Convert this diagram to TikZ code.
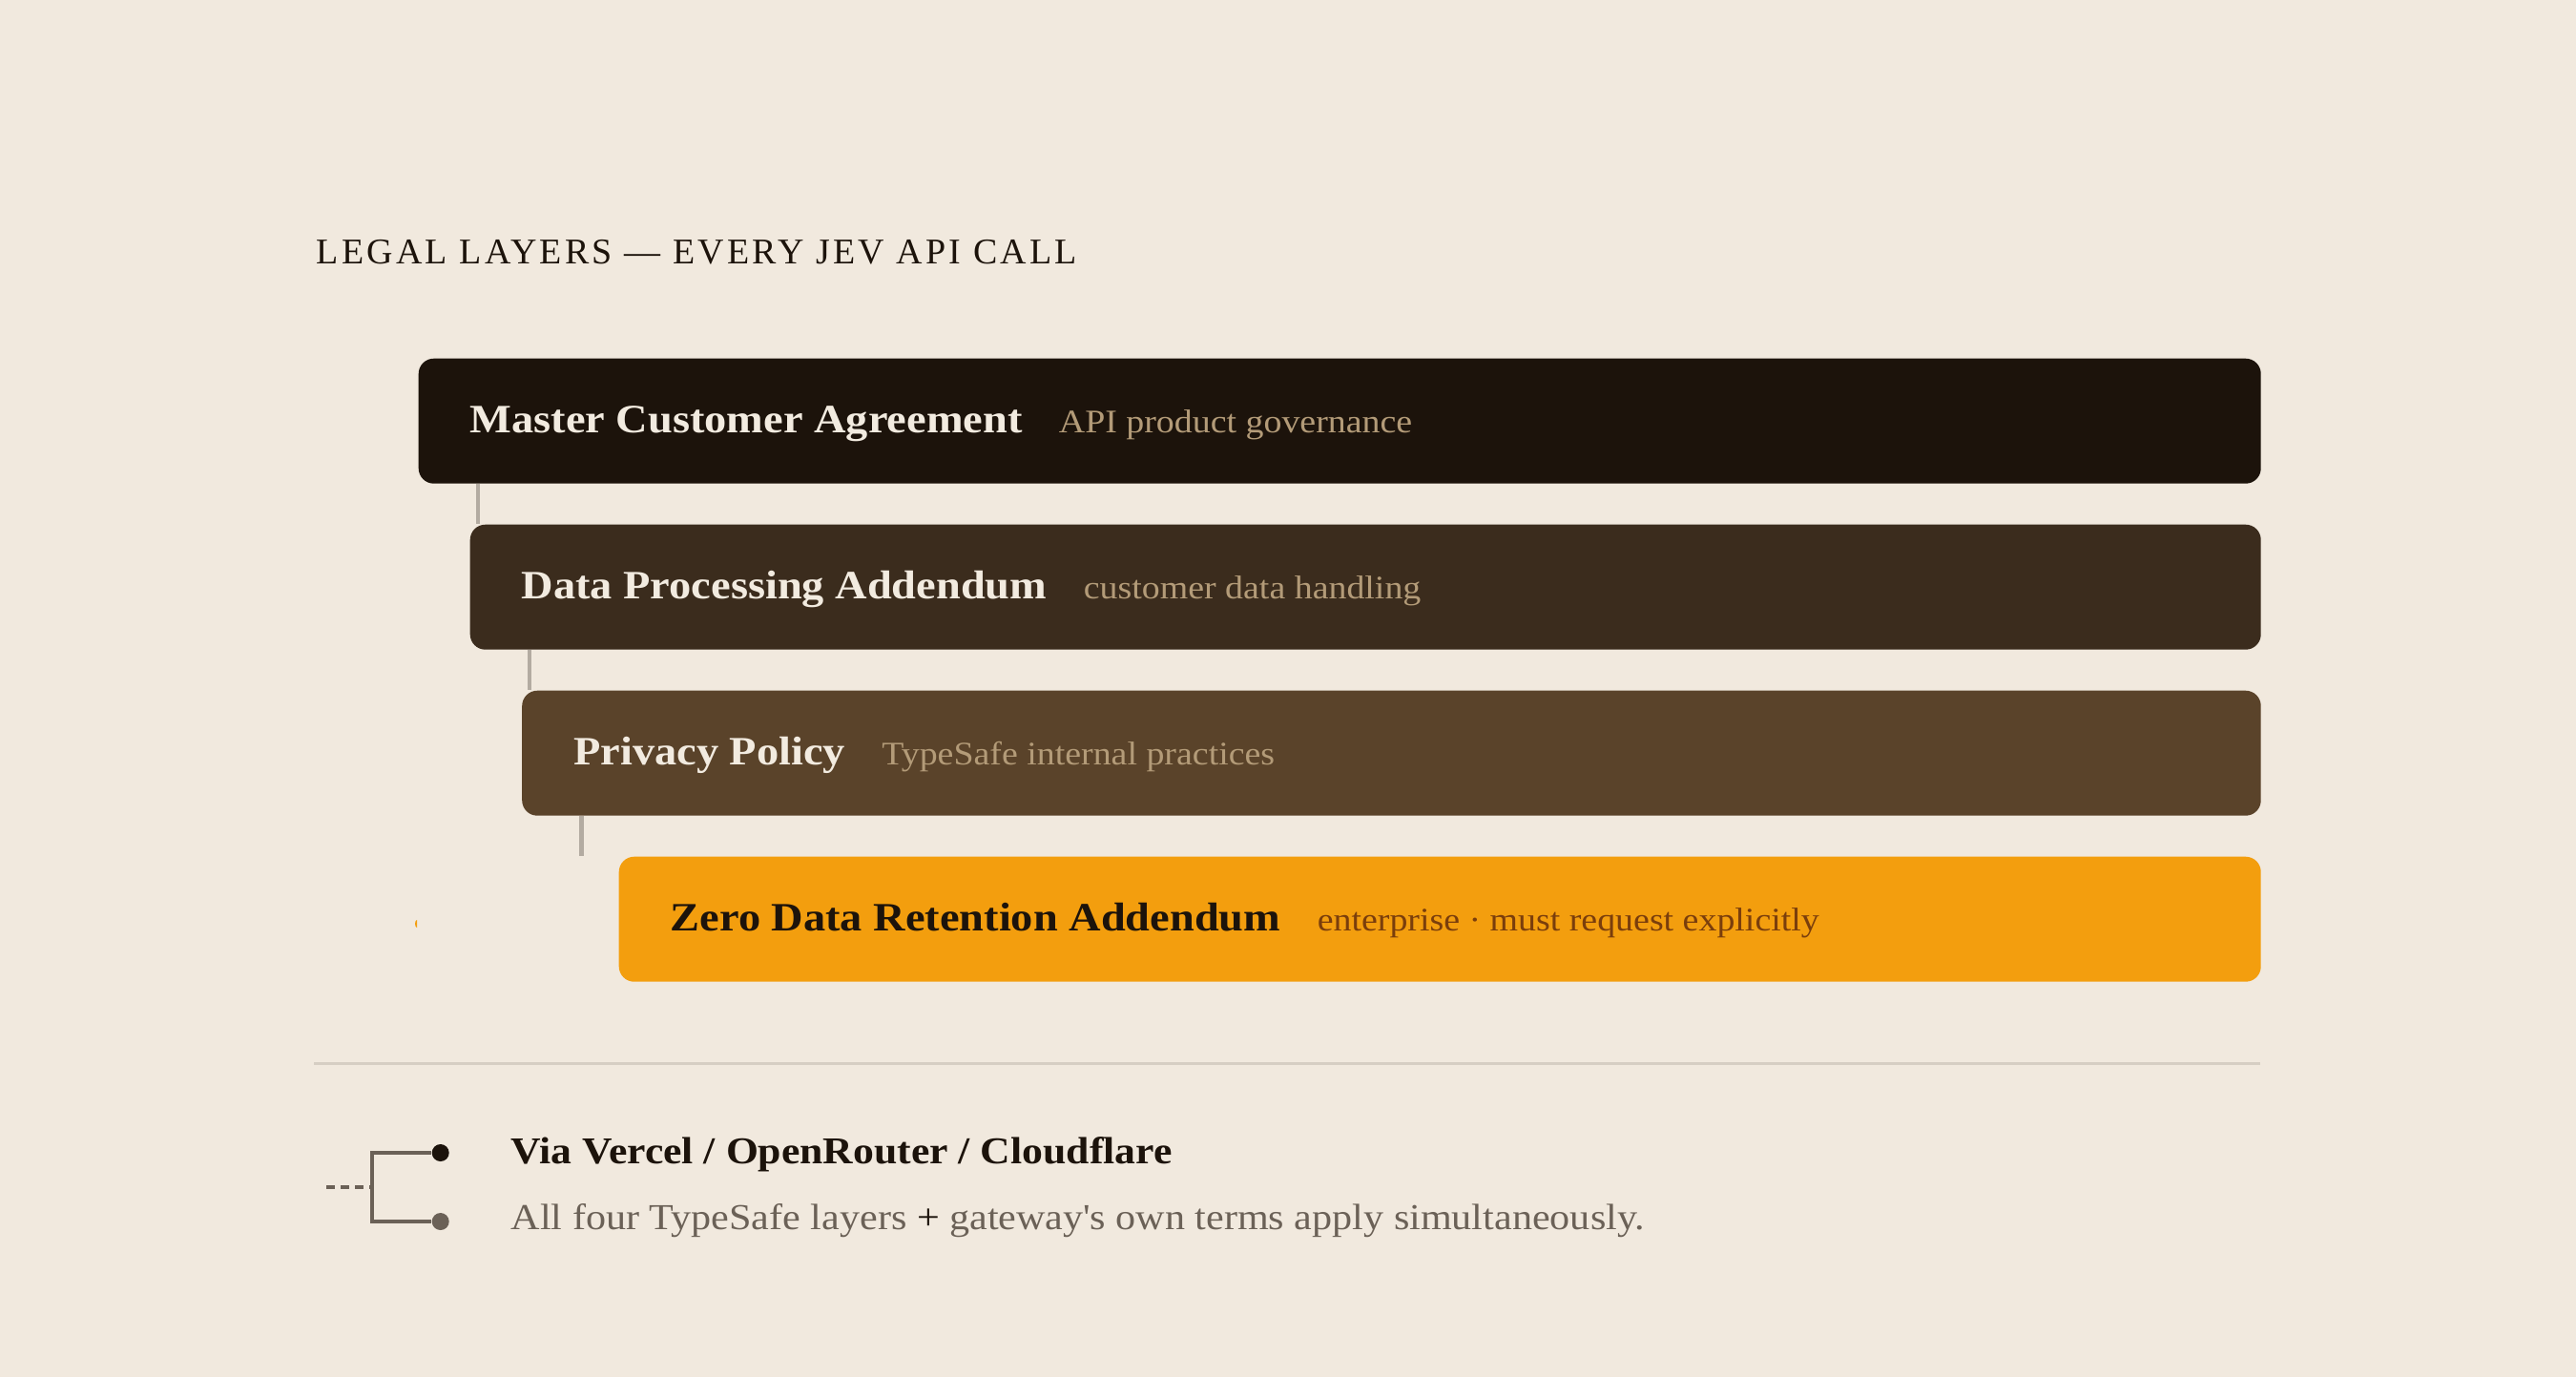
\documentclass[tikz,border=0pt]{standalone}
\usepackage{fontspec}
\setmainfont{Liberation Serif}[FakeStretch=1.1]
\newfontfamily\capsfont{Liberation Serif}[LetterSpace=8.5]
\usepackage{xcolor}
\usetikzlibrary{positioning}
\definecolor{paper}{HTML}{F1E9DE}
\definecolor{ink}{HTML}{1C130B}
\definecolor{layerA}{HTML}{1C130B}
\definecolor{layerB}{HTML}{3B2C1D}
\definecolor{layerC}{HTML}{5A432A}
\definecolor{layerD}{HTML}{F39E0E}
\definecolor{cream}{HTML}{F2EBE0}
\definecolor{tan}{HTML}{B39B78}
\definecolor{rust}{HTML}{7A3E0C}
\definecolor{linkgray}{HTML}{B3ABA1}
\definecolor{rulegray}{HTML}{D6CEC3}
\definecolor{slate}{HTML}{6B6157}
\tikzset{
  layer/.style={anchor=north west, rounded corners=0.16cm, minimum height=1.31cm, inner sep=0pt},
  ttl/.style={anchor=base west, inner sep=0pt, text=cream, font=\fontsize{12}{14}\selectfont\bfseries},
  sub/.style={inner sep=0pt, text=tan, font=\fontsize{9.8}{12}\selectfont},
  link/.style={draw=linkgray, line width=1.3pt},
  gw/.style={draw=slate, line width=1.15pt},
  dot/.style={circle, inner sep=0pt, minimum size=0.18cm}
}

\begin{document}
\begin{tikzpicture}
\fill[paper] (0,0) rectangle (27,-14.43);
\node[anchor=base west, inner sep=0pt, text=ink, font=\capsfont\fontsize{10.8}{13}\selectfont] (head) at (3.31,-2.76) {LEGAL LAYERS — EVERY JEV API CALL};

\node[layer, fill=layerA, minimum width=19.31cm] (mca) at (4.38,-3.75) {};
\node[layer, fill=layerB, minimum width=18.77cm] (dpa) at (4.92,-5.49) {};
\node[layer, fill=layerC, minimum width=18.225cm] (pp) at (5.465,-7.23) {};
\node[layer, fill=layerD, minimum width=17.21cm] (zdr) at (6.48,-8.97) {};

\node[ttl] (mcaT) at ([xshift=0.54cm,yshift=-0.12cm]mca.west) {Master Customer Agreement};
\node[sub, base right=0.37cm of mcaT] (mcaS) {API product governance};
\node[ttl] (dpaT) at ([xshift=0.54cm,yshift=-0.12cm]dpa.west) {Data Processing Addendum};
\node[sub, base right=0.37cm of dpaT] (dpaS) {customer data handling};
\node[ttl] (ppT) at ([xshift=0.54cm,yshift=-0.12cm]pp.west) {Privacy Policy};
\node[sub, base right=0.37cm of ppT] (ppS) {TypeSafe internal practices};
\node[ttl, text=ink] (zdrT) at ([xshift=0.54cm,yshift=-0.12cm]zdr.west) {Zero Data Retention Addendum};
\node[sub, text=rust, base right=0.37cm of zdrT] (zdrS) {enterprise · must request explicitly};

\foreach \a/\b in {mca/dpa,dpa/pp,pp/zdr} {
  \coordinate (\a L) at ([xshift=0.63cm]\a.south west);
  \draw[link] (\a L) -- (\a L |- \b.north);
}
\fill[layerD] (4.37,-9.64) arc[start angle=90, end angle=270, x radius=0.02, y radius=0.04] -- cycle;

\draw[rulegray, line width=0.85pt] (3.29,-11.14) -- (23.69,-11.14);

\coordinate (hub) at (3.897,-12.443);
\coordinate (stub) at (3.42,-12.443);
\node[dot, fill=ink] (gwTop) at (4.617,-12.08) {};
\node[dot, fill=slate] (gwBot) at (4.617,-12.80) {};
\draw[gw] (gwTop) -| (hub) |- (gwBot);
\draw[gw, dash pattern=on 0.09cm off 0.06cm] (stub) -- (hub);

\node[anchor=base west, inner sep=0pt, text=ink, font=\fontsize{11.3}{14}\selectfont\bfseries] (via) at (5.35,-12.19) {Via Vercel / OpenRouter / Cloudflare};
\node[anchor=base west, inner sep=0pt, text=slate, font=\fontsize{10.9}{13}\selectfont] (note) at (5.35,-12.88) {All four TypeSafe layers {\color{ink}+} gateway\textquotesingle s own terms apply simultaneously.};
\end{tikzpicture}
\end{document}
